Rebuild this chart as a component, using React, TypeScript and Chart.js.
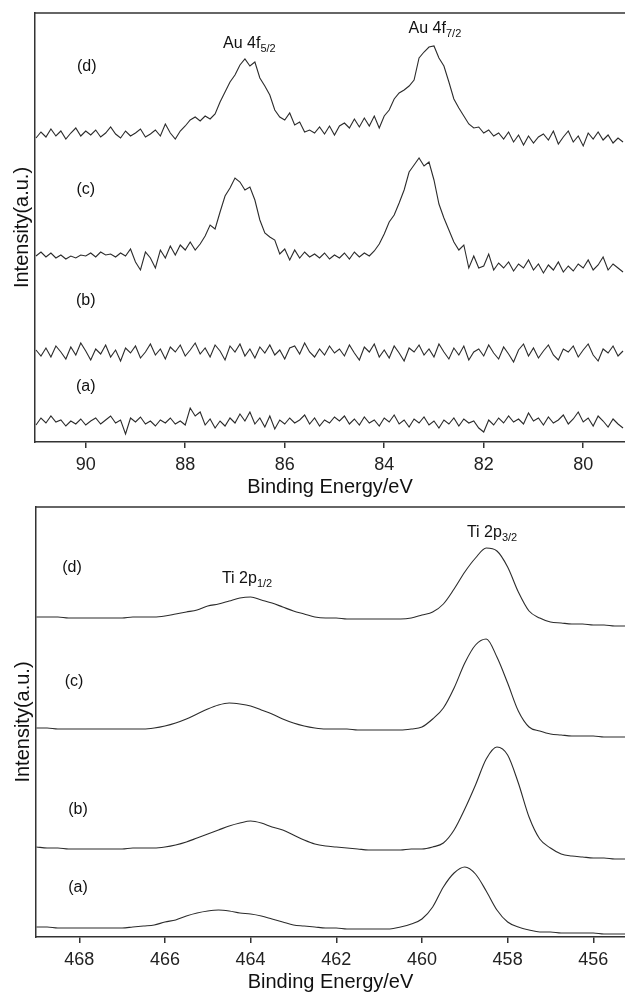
import React, { useEffect, useRef } from 'react';
import { Chart, registerables } from 'chart.js';

Chart.register(...registerables);

const FONT = '"Liberation Sans", Arial, sans-serif';

// ---------- Au 4f panel (binding energy, eV) ----------
const AU_ENERGY = [
  91.0, 90.9, 90.8, 90.7, 90.6, 90.5, 90.4, 90.3, 90.2, 90.1,
  90.0, 89.9, 89.8, 89.7, 89.6, 89.5, 89.4, 89.3, 89.2, 89.1,
  89.0, 88.9, 88.8, 88.7, 88.6, 88.5, 88.4, 88.3, 88.2, 88.1,
  88.0, 87.9, 87.8, 87.7, 87.6, 87.5, 87.4, 87.3, 87.2, 87.1,
  87.0, 86.9, 86.8, 86.7, 86.6, 86.5, 86.4, 86.3, 86.2, 86.1,
  86.0, 85.9, 85.8, 85.7, 85.6, 85.5, 85.4, 85.3, 85.2, 85.1,
  85.0, 84.9, 84.8, 84.7, 84.6, 84.5, 84.4, 84.3, 84.2, 84.1,
  84.0, 83.9, 83.8, 83.7, 83.6, 83.5, 83.4, 83.3, 83.2, 83.1,
  83.0, 82.9, 82.8, 82.7, 82.6, 82.5, 82.4, 82.3, 82.2, 82.1,
  82.0, 81.9, 81.8, 81.7, 81.6, 81.5, 81.4, 81.3, 81.2, 81.1,
  81.0, 80.9, 80.8, 80.7, 80.6, 80.5, 80.4, 80.3, 80.2, 80.1,
  80.0, 79.9, 79.8, 79.7, 79.6, 79.5, 79.4, 79.3, 79.2,
];

const AU_A = [
  17, 24, 19, 26, 20, 22, 16, 21, 18, 23, 17, 21, 24, 18, 22, 26, 19, 22, 8, 24,
  20, 25, 18, 21, 16, 22, 19, 24, 18, 21, 17,
  34, 26, 30, 17, 23, 14, 21, 16, 24, 19, 28, 21, 30, 18, 24, 15, 26, 13, 22, 18,
  24, 19, 22, 27, 18, 24, 16, 22, 19, 25,
  21, 26, 18, 23, 17, 25, 19, 22, 16, 24, 20, 27, 18, 22, 15, 23, 19, 25, 17, 21,
  14, 22, 18, 24, 16, 23, 19, 21, 14, 10,
  22, 17, 24, 19, 26, 20, 23, 18, 29, 21, 24, 17, 25, 19, 22, 27, 18, 23, 30, 20,
  24, 16, 26, 21, 15, 23, 18, 14,
];

const AU_B = [
  92, 86, 94, 85, 96, 90, 83, 95, 87, 99, 91, 82, 93, 88, 97, 85, 92, 81, 94, 89,
  96, 84, 90, 98, 87, 93, 83, 95, 90, 97, 86,
  92, 99, 88, 94, 85, 97, 91, 82, 96, 90, 98, 86, 93, 84, 95, 89, 97, 87, 92, 83,
  94, 96, 88, 99, 90, 85, 93, 87, 96, 89,
  93, 86, 97, 89, 82, 95, 90, 98, 85, 92, 84, 96, 89, 81, 94, 90, 97, 87, 93, 85,
  98, 90, 83, 94, 87, 96, 82, 90, 93, 86,
  97, 89, 83, 95, 88, 80, 92, 98, 86, 94, 84, 91, 97, 87, 82, 93, 90, 96, 85, 92,
  98, 87, 81, 93, 89, 96, 86, 91,
];

const AU_C = [
  186, 190, 185, 189, 184, 187, 183, 186, 184, 187, 186, 189, 185, 190, 187, 188, 185, 189, 186, 193,
  180, 172, 190, 184, 174, 192, 184, 196, 187, 197, 192,
  200, 192, 198, 206, 217, 213, 230, 246, 254, 264, 260, 252, 255, 242, 222, 209, 205, 202, 188, 193,
  182, 192, 184, 190, 185, 188, 184, 189, 183, 187,
  184, 189, 183, 190, 185, 189, 186, 191, 198, 208, 220, 227, 239, 252, 270, 277, 284, 276, 280, 262,
  238, 224, 212, 200, 192, 197, 174, 186, 174, 176,
  188, 172, 179, 174, 180, 171, 178, 174, 182, 172, 178, 169, 177, 172, 180, 170, 176, 171, 178, 174,
  182, 172, 177, 185, 172, 178, 174, 170,
];

const AU_D = [
  304, 310, 305, 313, 306, 311, 303, 309, 314, 306, 311, 307, 312, 305, 309, 315, 308, 304, 311, 306,
  309, 313, 305, 308, 312, 306, 318, 309, 303, 311, 316,
  322, 325, 321, 326, 323, 328, 340, 350, 360, 367, 377, 383, 376, 380, 364, 356, 347, 332, 325, 322,
  329, 317, 320, 310, 312, 309, 315, 308, 316, 307,
  316, 319, 314, 323, 315, 324, 316, 326, 314, 326, 332, 343, 349, 352, 356, 362, 384, 390, 395, 396,
  384, 376, 360, 343, 334, 326, 318, 314, 315, 309,
  312, 306, 309, 303, 310, 300, 307, 297, 306, 299, 305, 308, 302, 311, 298, 305, 311, 300, 306, 296,
  309, 303, 310, 302, 307, 299, 304, 300,
];

const AU_TICKS = [90, 88, 86, 84, 82, 80];
const AU_RANGE = [79.16, 91.02];
const AU_YMAX = 429;

const AU_NAMES = ['(a)', '(b)', '(c)', '(d)'];
const AU_NAME_E = [90.0, 90.0, 90.0, 89.98];
const AU_NAME_V = [55, 141, 252, 375];

const AU_PEAK_TEXT = ['Au 4f', 'Au 4f'];
const AU_PEAK_SUB = ['5/2', '7/2'];
const AU_PEAK_E = [87.24, 83.51];
const AU_PEAK_V = [394, 409];

// ---------- Ti 2p panel (binding energy, eV) ----------
const TI_ENERGY = [
  469.0, 468.75, 468.5, 468.25, 468.0, 467.75, 467.5, 467.25,
  467.0, 466.75, 466.5, 466.25, 466.0, 465.75, 465.5, 465.25,
  465.0, 464.75, 464.5, 464.25, 464.0, 463.75, 463.5, 463.25,
  463.0, 462.75, 462.5, 462.25, 462.0, 461.75, 461.5, 461.25,
  461.0, 460.75, 460.5, 460.25, 460.0, 459.75, 459.5, 459.25,
  459.0, 458.75, 458.5, 458.25, 458.0, 457.75, 457.5, 457.25,
  457.0, 456.75, 456.5, 456.25, 456.0, 455.75, 455.5, 455.25,
];

const TI_A = [
  10, 10, 9, 9, 9, 9, 9, 9, 9, 10, 11, 12,
  15, 17, 21, 24, 26, 27, 26, 24, 23, 21,
  18, 15, 12, 11, 10, 9, 9, 8, 8, 8,
  8, 8, 10, 13, 18, 30, 50, 64, 70, 63,
  46, 27, 15, 10, 7, 5, 5, 4, 4, 4,
  4, 3, 3, 3,
];

const TI_B = [
  90, 89, 89, 88, 88, 88, 88, 88, 88, 89, 89, 89,
  90, 92, 95, 99, 103, 107, 111, 114, 116, 114,
  110, 107, 102, 97, 93, 91, 90, 89, 88, 87,
  87, 87, 87, 88, 88, 90, 94, 107, 128, 152,
  178, 190, 182, 154, 120, 98, 89, 83, 81, 80,
  79, 79, 78, 78,
];

const TI_C = [
  209, 209, 208, 208, 208, 208, 208, 208, 208, 208, 208, 209,
  211, 214, 218, 223, 228, 232, 234, 233, 231, 227,
  223, 218, 214, 211, 209, 208, 208, 208, 207, 207,
  207, 207, 207, 208, 210, 218, 229, 249, 274, 292,
  298, 280, 254, 226, 210, 206, 203, 202, 201, 201,
  201, 200, 200, 200,
];

const TI_D = [
  320, 320, 320, 319, 319, 319, 319, 319, 319, 320, 320, 320,
  321, 323, 325, 327, 331, 333, 336, 339, 340, 337,
  334, 330, 326, 323, 320, 319, 319, 318, 318, 318,
  318, 318, 318, 319, 322, 325, 333, 348, 365, 379,
  389, 386, 370, 345, 326, 319, 315, 314, 313, 313,
  312, 312, 311, 311,
];

const TI_TICKS = [468, 466, 464, 462, 460, 458, 456];
const TI_RANGE = [455.26, 469.01];
const TI_YMAX = 430;

const TI_NAMES = ['(a)', '(b)', '(c)', '(d)'];
const TI_NAME_E = [468.03, 468.03, 468.12, 468.17];
const TI_NAME_V = [49, 127, 255, 369];

const TI_PEAK_TEXT = ['Ti 2p', 'Ti 2p'];
const TI_PEAK_SUB = ['1/2', '3/2'];
const TI_PEAK_E = [464.67, 458.95];
const TI_PEAK_V = [354, 400];

type PanelProps = {
  energy: number[];
  series: number[][];
  range: number[];
  yMax: number;
  ticks: number[];
  names: string[];
  nameE: number[];
  nameV: number[];
  peakText: string[];
  peakSub: string[];
  peakE: number[];
  peakV: number[];
  smooth: boolean;
  top: number;
  height: number;
  padTop: number;
  padLeft: number;
};

function Panel(p: PanelProps) {
  const ref = useRef<HTMLCanvasElement | null>(null);

  useEffect(() => {
    if (!ref.current) return;

    const annotate = {
      id: 'annotate',
      afterDatasetsDraw(chart: any) {
        const { ctx, chartArea, scales } = chart;
        const xs = scales.x;
        const ys = scales.y;
        ctx.save();
        // top frame line
        ctx.strokeStyle = '#333';
        ctx.lineWidth = 1.5;
        ctx.beginPath();
        ctx.moveTo(chartArea.left, chartArea.top);
        ctx.lineTo(chartArea.right, chartArea.top);
        ctx.stroke();

        ctx.fillStyle = '#111';
        // trace names
        ctx.font = `16px ${FONT}`;
        ctx.textAlign = 'center';
        ctx.textBaseline = 'middle';
        p.names.forEach((t, i) => {
          ctx.fillText(t, xs.getPixelForValue(p.nameE[i]), ys.getPixelForValue(p.nameV[i]));
        });
        // peak labels with subscripts
        ctx.textAlign = 'left';
        ctx.textBaseline = 'alphabetic';
        p.peakText.forEach((t, i) => {
          const px = xs.getPixelForValue(p.peakE[i]);
          const py = ys.getPixelForValue(p.peakV[i]);
          ctx.font = `16px ${FONT}`;
          ctx.fillText(t, px, py);
          const w = ctx.measureText(t).width;
          ctx.font = `11px ${FONT}`;
          ctx.fillText(p.peakSub[i], px + w, py + 4);
        });
        ctx.restore();
      },
    };

    const chart = new Chart(ref.current, {
      type: 'line',
      data: {
        datasets: p.series.map((s) => ({
          data: p.energy.map((e, i) => ({ x: e, y: s[i] })),
          borderColor: '#2b2b2b',
          borderWidth: 1.1,
          pointRadius: 0,
          fill: false,
          tension: 0,
          cubicInterpolationMode: p.smooth ? 'monotone' : 'default',
        })),
      },
      options: {
        animation: false,
        responsive: false,
        events: [],
        layout: { padding: { top: p.padTop, left: p.padLeft, right: 0, bottom: 0 } },
        plugins: {
          legend: { display: false },
          tooltip: { enabled: false },
          title: { display: false },
        },
        scales: {
          x: {
            type: 'linear',
            reverse: true,
            min: p.range[0],
            max: p.range[1],
            afterBuildTicks: (scale: any) => {
              scale.ticks = p.ticks.map((v) => ({ value: v }));
            },
            ticks: {
              color: '#222',
              font: { family: FONT, size: 18, lineHeight: 1 },
              padding: 8,
              maxRotation: 0,
              autoSkip: false,
              includeBounds: false,
            },
            grid: {
              display: true,
              drawOnChartArea: false,
              drawTicks: true,
              tickLength: 6,
              color: '#333',
              lineWidth: 1.5,
            },
            border: { display: true, color: '#333', width: 1.5 },
            title: {
              display: true,
              text: 'Binding Energy/eV',
              color: '#111',
              font: { family: FONT, size: 20, lineHeight: 1.2 },
              padding: { top: -7, bottom: 0 },
            },
          },
          y: {
            min: 0,
            max: p.yMax,
            ticks: { display: false },
            grid: { display: false, drawTicks: false, tickLength: 0 },
            border: { display: true, color: '#333', width: 1.5 },
            title: {
              display: true,
              text: 'Intensity(a.u.)',
              color: '#111',
              font: { family: FONT, size: 20, lineHeight: 1.2 },
              padding: { top: 0, bottom: 1 },
            },
          },
        },
      } as any,
      plugins: [annotate],
    });

    return () => chart.destroy();
  }, []);

  return (
    <canvas
      ref={ref}
      width={625}
      height={p.height}
      style={{ position: 'absolute', left: 0, top: p.top, width: 625, height: p.height, display: 'block' }}
    />
  );
}

export default function App() {
  return (
    <div
      style={{
        position: 'fixed',
        left: 0,
        top: 0,
        width: 625,
        height: 992,
        overflow: 'hidden',
        background: '#fff',
      }}
    >
      <Panel
        energy={AU_ENERGY}
        series={[AU_A, AU_B, AU_C, AU_D]}
        range={AU_RANGE}
        yMax={AU_YMAX}
        ticks={AU_TICKS}
        names={AU_NAMES}
        nameE={AU_NAME_E}
        nameV={AU_NAME_V}
        peakText={AU_PEAK_TEXT}
        peakSub={AU_PEAK_SUB}
        peakE={AU_PEAK_E}
        peakV={AU_PEAK_V}
        smooth={false}
        top={0}
        height={499}
        padTop={13}
        padLeft={10}
      />
      <Panel
        energy={TI_ENERGY}
        series={[TI_A, TI_B, TI_C, TI_D]}
        range={TI_RANGE}
        yMax={TI_YMAX}
        ticks={TI_TICKS}
        names={TI_NAMES}
        nameE={TI_NAME_E}
        nameV={TI_NAME_V}
        peakText={TI_PEAK_TEXT}
        peakSub={TI_PEAK_SUB}
        peakE={TI_PEAK_E}
        peakV={TI_PEAK_V}
        smooth={true}
        top={499}
        height={495}
        padTop={8}
        padLeft={11}
      />
    </div>
  );
}
